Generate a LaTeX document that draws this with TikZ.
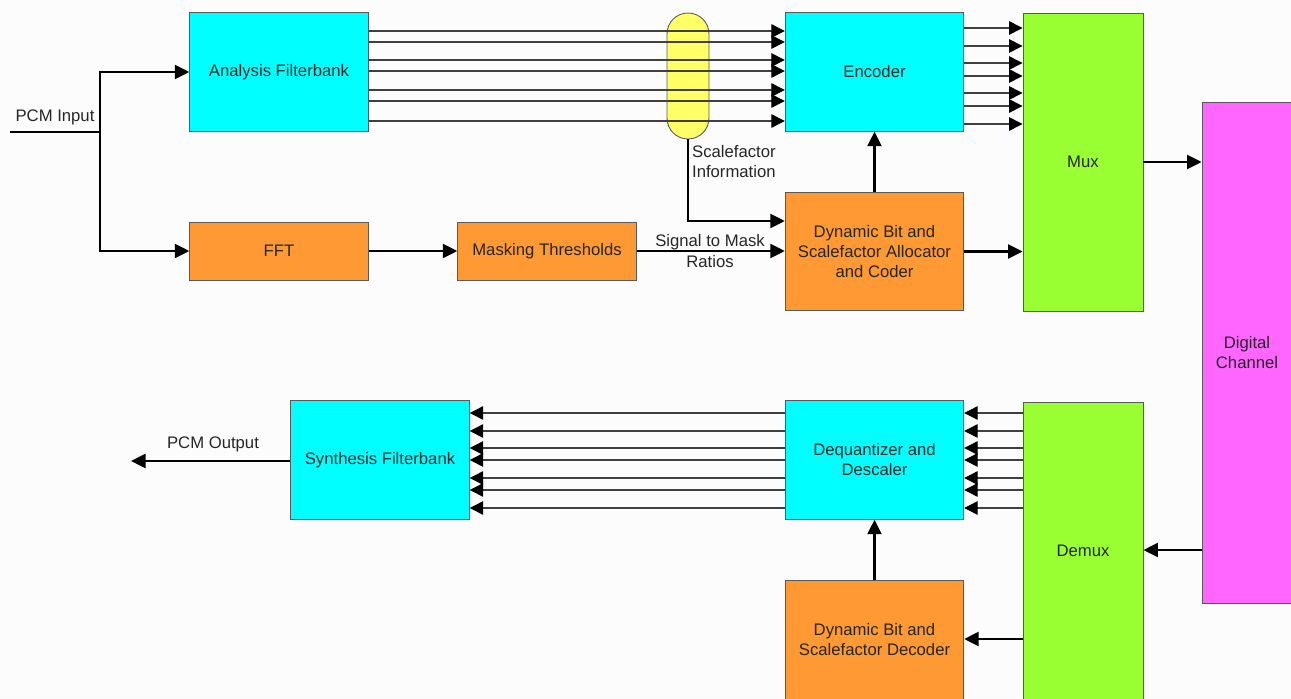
\documentclass[tikz,border=0pt]{standalone}
\usepackage{fontspec}
\setsansfont{Liberation Sans}
\usetikzlibrary{positioning, calc, arrows.meta, backgrounds}
\definecolor{paper}   {HTML}{FCFCFC}
\definecolor{bankcol} {HTML}{00FFFF}
\definecolor{psycol}  {HTML}{FF9933}
\definecolor{muxcol}  {HTML}{99FF33}
\definecolor{chancol} {HTML}{FF66FF}
\definecolor{sfcol}   {HTML}{FFFF66}
\tikzset{
  >={Triangle[length=2.7mm, width=2.7mm, color=black]},
  block/.style={
    draw=black!65, line width=0.5pt,
    rectangle, minimum width=35.7mm, minimum height=23.7mm,
    align=center, inner sep=2pt,
    font=\sffamily\fontsize{9.5}{11.4}\selectfont, text=black!85
  },
  flatblock/.style={block, minimum height=11.6mm},
  tallblock/.style={block, minimum width=24mm, minimum height=59.6mm},
  chanblock/.style={block, minimum width=18mm, minimum height=100.2mm},
  sfpill/.style={
    draw=black!65, line width=0.5pt, fill=sfcol,
    rectangle, rounded corners=4.2mm,
    minimum width=8.4mm, minimum height=25.2mm
  },
  lbl/.style={
    font=\sffamily\fontsize{9.5}{11.4}\selectfont, text=black!85,
    inner sep=1pt, align=left
  },
  subband/.style={line width=0.7pt, draw=black!75, ->},
  sigwire/.style={line width=1.3pt, draw=black,
    -{Triangle[length=2.9mm, width=2.8mm]}},
}

\begin{document}
\begin{tikzpicture}[x=0.2mm, y=-0.2mm]

\fill[paper] (0,0) rectangle (1291,698);
\useasboundingbox (0,0) rectangle (1291,698);

% Encoder side
\node[sfpill] (sfinfo) at (688, 76) {};
\node[block, fill=bankcol]   (afb)   at (279, 72)      {Analysis Filterbank};
\node[block, fill=bankcol]   (enc)   at (874.5, 72)    {Encoder};
\node[flatblock, fill=psycol] (fft)  at (279, 251)     {FFT};
\node[flatblock, fill=psycol] (mask) at (547, 251)     {Masking Thresholds};
\node[block, fill=psycol]    (alloc) at (874.5, 251.5) {Dynamic Bit and\\Scalefactor Allocator\\and Coder};
\node[tallblock, fill=muxcol] (mux)  at (1083, 162)    {Mux};

% Channel
\node[chanblock, fill=chancol] (chan) at (1247, 352.5) {Digital\\Channel};

% Decoder side
\node[tallblock, fill=muxcol] (demux) at (1083, 551)   {Demux};
\node[block, fill=bankcol]   (deq)   at (874.5, 460)   {Dequantizer and\\Descaler};
\node[block, fill=psycol]    (dec)   at (874.5, 640)   {Dynamic Bit and\\Scalefactor Decoder};
\node[block, fill=bankcol]   (synth) at (380, 460)     {Synthesis Filterbank};

% PCM input split
\coordinate (pcmin)  at (10, 132);
\coordinate (insplit) at (100, 132);
\node[lbl] (pcminlbl) at (55, 117) {PCM Input};
\draw[line width=1.3pt] (pcmin) -- (insplit);
\draw[sigwire] (insplit) |- (afb.west);
\draw[sigwire] (insplit) |- (fft.west);

% Subband samples
\foreach \y in {31, 42, 60, 71, 90, 101, 121} {
  \draw[subband] (afb.east |- 0,\y) -- (enc.west |- 0,\y);
}
\foreach \y in {28, 46, 63, 76, 93, 106, 124} {
  \draw[subband] (enc.east |- 0,\y) -- (mux.west |- 0,\y);
}

% Psychoacoustic path
\draw[sigwire] (fft.east) -- (mask.west);
\draw[sigwire] (mask.east) -- (mask.east -| alloc.west);
\node[lbl, align=center] (smrlbl) at (710, 251) {Signal to Mask\\[1pt]Ratios};
\draw[sigwire] (sfinfo.south) |- (alloc.west |- 0,221);
\node[lbl, anchor=west] (sflbl) at (690, 162) {Scalefactor\\Information};
\draw[sigwire] (alloc.north) -- (enc.south);
\draw[sigwire] (alloc.east) -- (alloc.east -| mux.west);
\draw[sigwire] (mux.east) -- (mux.east -| chan.west);

% Decoder path
\draw[sigwire] (chan.west |- 0,550) -- (demux.east |- 0,550);
\draw[sigwire] (demux.west |- 0,639) -- (dec.east |- 0,639);
\draw[sigwire] (dec.north) -- (deq.south);
\foreach \y in {413, 431, 448, 460, 478, 490, 508} {
  \draw[subband] (demux.west |- 0,\y) -- (deq.east |- 0,\y);
  \draw[subband] (deq.west |- 0,\y) -- (synth.east |- 0,\y);
}

% PCM output
\coordinate (pcmout) at (131, 461);
\draw[sigwire] (synth.west |- pcmout) -- (pcmout);
\node[lbl] (pcmoutlbl) at (213, 444) {PCM Output};

\end{tikzpicture}
\end{document}
